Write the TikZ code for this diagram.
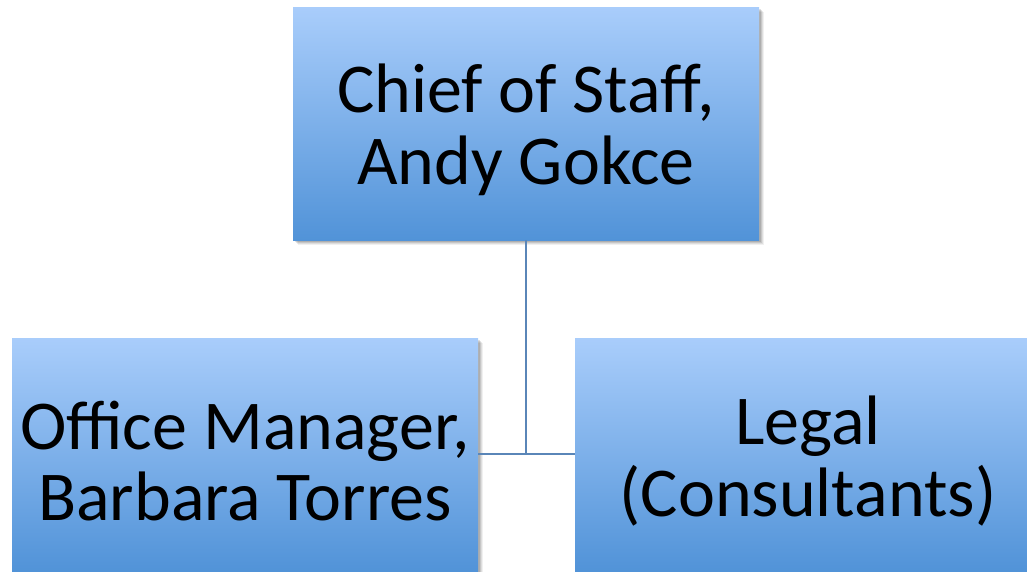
\documentclass[tikz,border=0pt]{standalone}
\usepackage{fontspec}
\setmainfont{Carlito}
\begin{document}
\begin{tikzpicture}[x=0.75pt,y=-0.75pt,
  box/.style={rectangle, minimum width=466*0.75pt, minimum height=233*0.75pt, inner sep=0pt,
    top color=boxtop, bottom color=boxbot},
  boxtext/.style={align=center, inner sep=0pt, font=\fontsize{52.5}{53.5}\selectfont},
  link/.style={draw=linec, line width=1.6pt}]
\definecolor{boxtop}{HTML}{A9CDFB}
\definecolor{boxbot}{HTML}{5193D8}
\definecolor{linec}{HTML}{5A86B8}
\useasboundingbox (0,0) rectangle (1027,571);
\clip (0,0) rectangle (1027,571);
% shadows
\foreach \o/\a in {5/0.06,4/0.08,3/0.1,2/0.12}{
  \fill[black,opacity=\a] (293+\o,7+\o) rectangle (759+\o,240+\o);
  \fill[black,opacity=\a] (12+\o,338+\o) rectangle (478+\o,575);
  \fill[black,opacity=\a] (575+\o,338+\o) rectangle (1041,575);
}
\node[box] (top) at (526,123.5) {};
\node[box] (left) at (245,454.5) {};
\node[box] (right) at (808,454.5) {};
\node[boxtext] (toptext) at (526,130) {Chief of Staff,\\Andy Gokce};
\node[boxtext] (lefttext) at (245,461) {Office Manager,\\Barbara Torres};
\node[boxtext] (righttext) at (808,461) {Legal\\(Consultants)};
\coordinate (j) at (526,454);
\draw[link] (top.south) -- (j);
\draw[link] (left.east |- j) -- (right.west |- j);
\end{tikzpicture}
\end{document}
